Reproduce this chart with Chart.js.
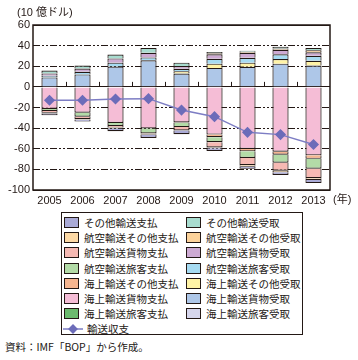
<!DOCTYPE html>
<html>
<head>
<meta charset="utf-8">
<script src="https://cdn.jsdelivr.net/npm/chart.js@4"></script>
<style>
  body { margin: 0; background: #fff; font-family: "Liberation Sans", "Noto Sans CJK JP", sans-serif; color: #231815; }
  #wrap { position: relative; width: 358px; height: 360px; }
  #chart { position: absolute; left: 0; top: 0; }
  #legend {
    position: absolute; left: 61px; top: 212px; width: 242px; height: 123px;
    border: 1px solid #231815; box-sizing: border-box; padding-top: 2px;
    display: grid; grid-template-columns: 122px 118px; grid-auto-rows: 15.2px;
    font-family: "Noto Sans CJK JP", sans-serif; font-size: 10.5px;
  }
  .item { display: flex; align-items: center; white-space: nowrap; }
  .sw { width: 13px; height: 9px; border: 1px solid #231815; margin: 0 5px 0 2px; flex: none; }
  .ln { margin: 0 4px 0 1px; }
  #source { position: absolute; left: 5px; top: 339px; font-family: "Noto Sans CJK JP", sans-serif; font-size: 10.5px; }
</style>
</head>
<body>
<div id="wrap">
  <canvas id="chart" width="358" height="210"></canvas>
  <div id="legend"></div>
  <div id="source">資料：IMF「BOP」から作成。</div>
</div>
<script>
const years = ["2005", "2006", "2007", "2008", "2009", "2010", "2011", "2012", "2013"];

// 受取 (10億ドル)
const seaPassRec  = [0.4, null, null, 0.8, null, null, 0.5, null, 0.5];
const seaCargoRec = [8.8, 12.1, 19.7, 24.9, 13.0, 18.4, 18.9, 22.5, 20.2];
const seaOtherRec = [null, null, null, null, 2.2, 4.1, 4.1, 4.5, 4.7];
const airPassRec  = [1.6, 2.5, 3.8, 2.9, 2.3, 4.8, 4.8, 4.7, 4.8];
const airCargoRec = [2.2, 3.2, 4.1, 4.4, 2.8, 4.4, 4.7, 4.2, 3.4];
const airOtherRec = [null, null, null, null, null, 1.0, 1.0, 1.2, 1.9];
const otherRec    = [2.9, 2.9, 3.8, 4.8, 3.2, 1.0, 1.0, 1.7, 2.3];

// 支払 (10億ドル)
const seaPassPay  = [null, null, null, null, null, null, null, null, null];
const seaCargoPay = [-21.5, -25.0, -35.0, -40.3, -34.6, -46.3, -60.3, -62.9, -66.4];
const seaOtherPay = [null, null, null, null, -0.4, -2.6, -2.2, -2.8, -3.4];
const airPassPay  = [-2.0, -3.9, -3.0, -4.8, -4.0, -4.7, -6.4, -7.9, -9.5];
const airCargoPay = [-1.6, -2.5, -1.5, -1.0, -3.2, -5.1, -7.0, -7.7, -9.3];
const airOtherPay = [-0.6, -0.5, -0.8, -0.6, null, -0.8, -1.6, -1.6, -1.6];
const otherPay    = [-1.9, -1.7, -2.8, -2.8, -3.8, -2.7, -1.9, -2.5, -3.1];

// 輸送収支
const balance = [-13.0, -13.0, -11.8, -11.4, -22.5, -28.9, -44.1, -46.3, -55.9];

const ink = "#231815";

// 積み上げ順 (受取は下から, 支払は0から下へ)
const receipts = [
  { label: "海上輸送旅客受取", data: seaPassRec, color: "#d6d6ec" },
  { label: "海上輸送貨物受取", data: seaCargoRec, color: "#aec7e8" },
  { label: "海上輸送その他受取", data: seaOtherRec, color: "#fff3a6" },
  { label: "航空輸送旅客受取", data: airPassRec, color: "#a6dbf2" },
  { label: "航空輸送貨物受取", data: airCargoRec, color: "#cdaad3" },
  { label: "航空輸送その他受取", data: airOtherRec, color: "#fcd29a" },
  { label: "その他輸送受取", data: otherRec, color: "#a8dccf" }
];
const payments = [
  { label: "海上輸送旅客支払", data: seaPassPay, color: "#6cbb6e" },
  { label: "海上輸送貨物支払", data: seaCargoPay, color: "#f5bdd6" },
  { label: "海上輸送その他支払", data: seaOtherPay, color: "#f7b690" },
  { label: "航空輸送旅客支払", data: airPassPay, color: "#b3dba7" },
  { label: "航空輸送貨物支払", data: airCargoPay, color: "#f6b9b3" },
  { label: "航空輸送その他支払", data: airOtherPay, color: "#fdd9a5" },
  { label: "その他輸送支払", data: otherPay, color: "#aaaad6" }
];

const datasets = [];
receipts.forEach(s => datasets.push({
  type: "bar", label: s.label, data: s.data, backgroundColor: s.color,
  borderColor: ink, borderWidth: { top: 1.2, left: 1.2, right: 1.2, bottom: 0 },
  borderSkipped: false, order: 1
}));
payments.forEach(s => datasets.push({
  type: "bar", label: s.label, data: s.data, backgroundColor: s.color,
  borderColor: ink, borderWidth: { top: 0, left: 1.2, right: 1.2, bottom: 1.2 },
  borderSkipped: false, order: 1
}));
datasets.push({
  type: "line", label: "輸送収支", data: balance, stack: "bal",
  borderColor: "#7d7dc4", borderWidth: 1.5,
  pointStyle: "rectRot", pointRadius: 4.5,
  pointBackgroundColor: "#6c6cb9", pointBorderColor: "#6c6cb9", order: 0
});

// 凡例 (2列, 行ごとに 支払/受取)
const legendEl = document.getElementById("legend");
for (let i = payments.length - 1; i >= 0; i--) {
  [payments[i], receipts[i]].forEach(s => {
    const d = document.createElement("div");
    d.className = "item";
    d.innerHTML = '<span class="sw" style="background:' + s.color + '"></span>' + s.label;
    legendEl.appendChild(d);
  });
}
const lineItem = document.createElement("div");
lineItem.className = "item";
lineItem.innerHTML = '<svg class="ln" width="20" height="10"><line x1="0" y1="5" x2="20" y2="5" stroke="#7d7dc4" stroke-width="1.5"/>' +
  '<rect x="6.5" y="1.5" width="7" height="7" fill="#6c6cb9" transform="rotate(45 10 5)"/></svg>輸送収支';
legendEl.appendChild(lineItem);

const framePlugin = {
  id: "frame",
  afterDraw(chart) {
    const { ctx, chartArea: a, scales } = chart;
    ctx.save();
    ctx.strokeStyle = ink;
    ctx.lineWidth = 1.5;
    ctx.strokeRect(a.left, a.top, a.right - a.left, a.bottom - a.top);
    // 0 線上の区切り目盛
    const y0 = scales.y.getPixelForValue(0);
    ctx.lineWidth = 1;
    for (let i = 0; i < years.length - 1; i++) {
      const x = Math.round((scales.x.getPixelForValue(i) + scales.x.getPixelForValue(i + 1)) / 2) + 0.5;
      ctx.beginPath();
      ctx.moveTo(x, y0);
      ctx.lineTo(x, y0 - 5);
      ctx.stroke();
    }
    ctx.fillStyle = ink;
    ctx.font = '11px "Liberation Sans", "Noto Sans CJK JP", sans-serif';
    ctx.textBaseline = "middle";
    ctx.fillText("(10 億ドル)", 17, 13);
    ctx.fillText("(年)", a.right + 3, 200);
    ctx.restore();
  }
};

new Chart(document.getElementById("chart"), {
  data: { labels: years, datasets: datasets },
  options: {
    responsive: false,
    animation: false,
    layout: { padding: { top: 25, right: 28, left: 0, bottom: 0 } },
    plugins: { legend: { display: false }, tooltip: { enabled: false } },
    datasets: { bar: { barPercentage: 0.49, categoryPercentage: 1 } },
    scales: {
      x: {
        stacked: true,
        grid: { display: false, drawTicks: false },
        border: { display: false },
        ticks: { color: ink, font: { size: 11, family: '"Liberation Sans", sans-serif' }, padding: 4, maxRotation: 0 },
        afterFit: s => { s.height = 20; }
      },
      y: {
        stacked: true,
        min: -100, max: 60,
        ticks: { stepSize: 20, color: ink, font: { size: 11, family: '"Liberation Sans", sans-serif' }, padding: 3 },
        grid: { color: ink, lineWidth: 1, drawTicks: false },
        border: {
          display: false,
          dash: ctx => (ctx.tick && ctx.tick.value !== 0 && ctx.tick.value !== 60 && ctx.tick.value !== -100) ? [7, 2, 2, 2, 2, 2] : []
        },
        afterFit: s => { s.width = 33; }
      }
    }
  },
  plugins: [framePlugin]
});
</script>
</body>
</html>
